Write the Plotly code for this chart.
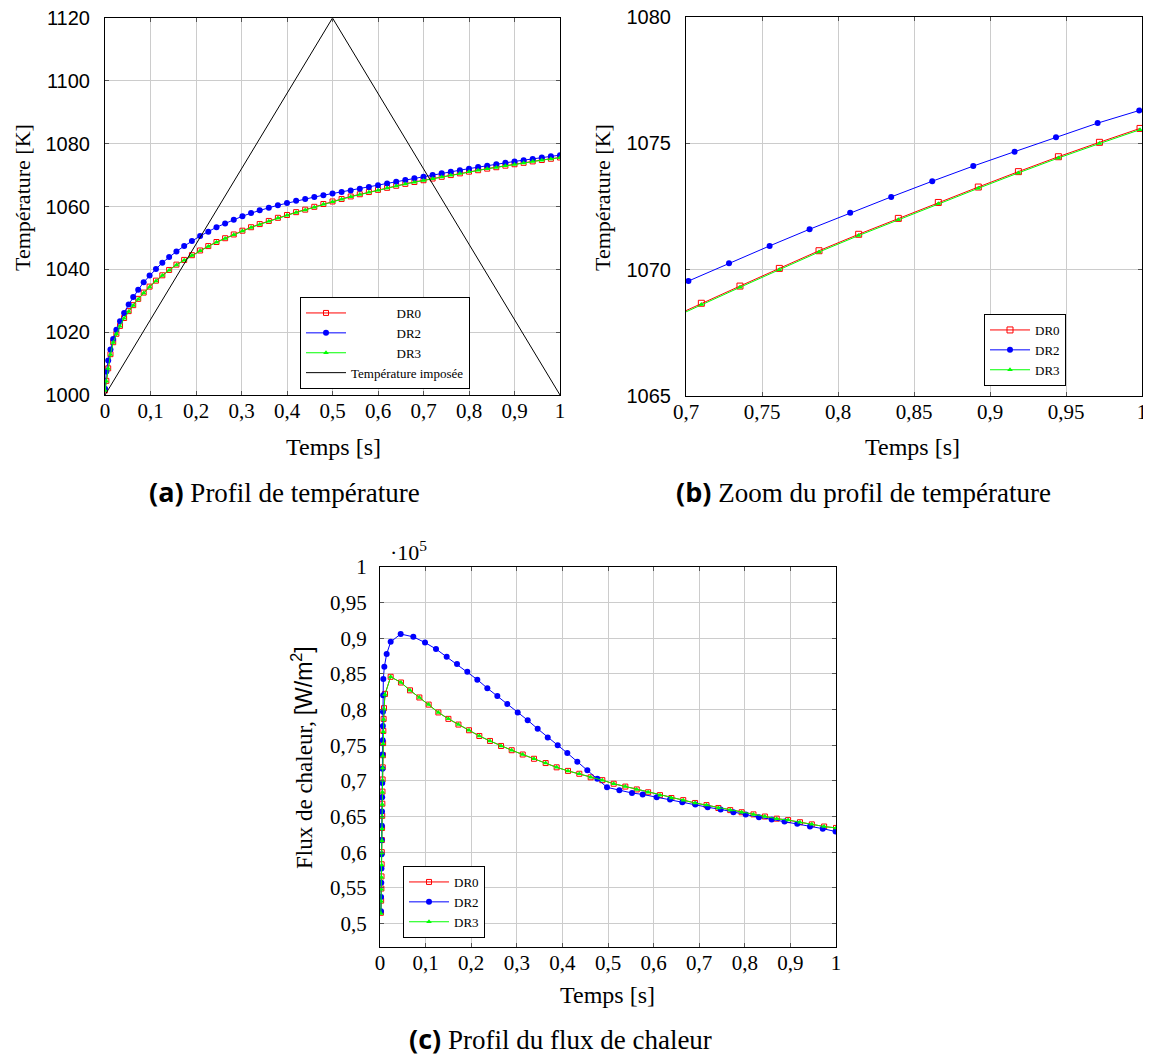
import plotly.graph_objects as go

# ---------------- data: (a) temperature profile ----------------
time_a = [0, 0.003, 0.007, 0.012, 0.018, 0.025, 0.033, 0.042, 0.052, 0.062,
          0.073, 0.085, 0.098, 0.112, 0.126, 0.141, 0.157, 0.174, 0.191, 0.209,
          0.227, 0.245, 0.264, 0.283, 0.302, 0.321, 0.34, 0.36, 0.38, 0.4,
          0.42, 0.44, 0.46, 0.48, 0.5, 0.52, 0.54, 0.56, 0.58, 0.6,
          0.62, 0.64, 0.66, 0.68, 0.7, 0.72, 0.74, 0.76, 0.78, 0.8,
          0.82, 0.84, 0.86, 0.88, 0.9, 0.92, 0.94, 0.96, 0.98, 1.0]
dr0_a = [1001.5, 1004.5, 1008.5, 1013.0, 1016.8, 1019.5, 1022.0, 1024.5, 1026.7, 1028.6,
         1030.6, 1032.6, 1034.5, 1036.4, 1038.1, 1039.8, 1041.5, 1043.0, 1044.5, 1046.0,
         1047.4, 1048.7, 1049.9, 1051.1, 1052.3, 1053.4, 1054.4, 1055.4, 1056.4, 1057.3,
         1058.2, 1059.0, 1059.9, 1060.8, 1061.6, 1062.4, 1063.2, 1063.9, 1064.6, 1065.3,
         1065.95, 1066.6, 1067.2, 1067.8, 1068.36, 1068.9, 1069.45, 1070.0, 1070.55, 1071.1,
         1071.55, 1072.05, 1072.5, 1073.0, 1073.45, 1073.9, 1074.35, 1074.8, 1075.2, 1075.6]
dr2_a = [1002.0, 1007.5, 1011.0, 1014.5, 1017.8, 1020.8, 1023.5, 1026.1, 1028.8, 1031.2,
         1033.5, 1035.9, 1038.0, 1040.1, 1042.1, 1043.9, 1045.7, 1047.4, 1049.0, 1050.6,
         1052.0, 1053.4, 1054.6, 1055.8, 1056.9, 1057.9, 1058.8, 1059.6, 1060.4, 1061.1,
         1061.8, 1062.4, 1063.0, 1063.6, 1064.1, 1064.6, 1065.1, 1065.65, 1066.2, 1066.8,
         1067.35, 1067.9, 1068.45, 1069.0, 1069.5, 1070.0, 1070.55, 1071.05, 1071.55, 1072.05,
         1072.55, 1073.0, 1073.45, 1073.9, 1074.35, 1074.75, 1075.15, 1075.6, 1076.0, 1076.35]
dr3_a = [1001.4, 1004.4, 1008.4, 1012.9, 1016.7, 1019.4, 1021.9, 1024.4, 1026.6, 1028.5,
         1030.5, 1032.5, 1034.4, 1036.3, 1038.0, 1039.7, 1041.4, 1042.9, 1044.4, 1045.9,
         1047.3, 1048.6, 1049.8, 1051.0, 1052.2, 1053.3, 1054.3, 1055.3, 1056.3, 1057.2,
         1058.1, 1058.9, 1059.8, 1060.7, 1061.5, 1062.3, 1063.1, 1063.8, 1064.5, 1065.2,
         1065.9, 1066.55, 1067.15, 1067.75, 1068.3, 1068.85, 1069.4, 1069.95, 1070.5, 1071.05,
         1071.5, 1072.0, 1072.45, 1072.95, 1073.4, 1073.85, 1074.3, 1074.75, 1075.15, 1075.55]
time_imposed = [0, 0.5, 1]
temp_imposed = [1000, 1120, 1000]

# ---------------- data: (b) zoom of temperature profile ----------------
time_b_dr0 = [0.6843, 0.7101, 0.7355, 0.7614, 0.7875, 0.8136, 0.8397, 0.866, 0.8923,
              0.9187, 0.945, 0.972, 0.9987]
dr0_b = [1067.95, 1068.67, 1069.35, 1070.05, 1070.75, 1071.4, 1072.03, 1072.66, 1073.27,
         1073.88, 1074.47, 1075.04, 1075.59]
dr3_b = [1067.9, 1068.62, 1069.3, 1070.0, 1070.7, 1071.35, 1071.98, 1072.61, 1073.22,
         1073.83, 1074.42, 1074.99, 1075.54]
time_b_dr2 = [0.7016, 0.7283, 0.755, 0.7813, 0.808, 0.835, 0.862, 0.889, 0.9162,
              0.9434, 0.9708, 0.9982]
dr2_b = [1069.55, 1070.25, 1070.94, 1071.6, 1072.25, 1072.88, 1073.5, 1074.1, 1074.67,
         1075.24, 1075.8, 1076.3]

# ---------------- data: (c) heat flux (x 1e5 W/m2) ----------------
time_c_dr0 = [0.002, 0.0025, 0.003, 0.0033, 0.0036, 0.0039, 0.0042, 0.0045, 0.0048, 0.0051,
              0.0054, 0.0057, 0.006, 0.0064, 0.0068, 0.0073, 0.0079, 0.0088, 0.011, 0.0234,
              0.046, 0.0658, 0.0863, 0.1067, 0.128, 0.150, 0.172, 0.1952, 0.2178, 0.2412,
              0.2654, 0.2888, 0.313, 0.3377, 0.3633, 0.3874, 0.4123, 0.4371, 0.462, 0.4875,
              0.5125, 0.538, 0.563, 0.588, 0.614, 0.639, 0.665, 0.691, 0.716, 0.742,
              0.768, 0.793, 0.819, 0.844, 0.87, 0.895, 0.921, 0.947, 0.974, 1.0]
flux_dr0 = [0.515, 0.532, 0.549, 0.566, 0.583, 0.600, 0.617, 0.634, 0.651, 0.668,
            0.685, 0.702, 0.719, 0.736, 0.753, 0.770, 0.787, 0.802, 0.822, 0.846,
            0.838, 0.827, 0.817, 0.807, 0.796, 0.787, 0.779, 0.771, 0.763, 0.756,
            0.749, 0.743, 0.737, 0.731, 0.725, 0.719, 0.714, 0.710, 0.705, 0.701,
            0.696, 0.692, 0.688, 0.684, 0.680, 0.676, 0.673, 0.669, 0.666, 0.662,
            0.659, 0.656, 0.653, 0.650, 0.647, 0.645, 0.642, 0.639, 0.636, 0.634]
flux_dr3 = [0.514, 0.531, 0.548, 0.565, 0.582, 0.599, 0.616, 0.633, 0.650, 0.667,
            0.684, 0.701, 0.718, 0.735, 0.752, 0.769, 0.786, 0.801, 0.821, 0.846,
            0.838, 0.827, 0.817, 0.807, 0.796, 0.787, 0.779, 0.771, 0.763, 0.756,
            0.749, 0.743, 0.737, 0.731, 0.725, 0.719, 0.714, 0.710, 0.705, 0.701,
            0.696, 0.692, 0.688, 0.684, 0.680, 0.676, 0.673, 0.669, 0.666, 0.662,
            0.659, 0.656, 0.653, 0.650, 0.647, 0.645, 0.642, 0.639, 0.636, 0.634]
time_c_dr2 = [0.002, 0.0024, 0.0028, 0.0032, 0.0035, 0.0038, 0.0041, 0.0044, 0.0047, 0.005,
              0.0053, 0.0056, 0.0059, 0.0062, 0.0065, 0.0069, 0.0073, 0.0095, 0.0146, 0.0234,
              0.0453, 0.0731, 0.0987, 0.1228, 0.1462, 0.1689, 0.1915, 0.2134, 0.2354, 0.2573,
              0.2792, 0.302, 0.3239, 0.3458, 0.3678, 0.3897, 0.4108, 0.4327, 0.4547, 0.4766,
              0.4978, 0.525, 0.5526, 0.576, 0.6067, 0.636, 0.663, 0.6915, 0.7186, 0.747,
              0.775, 0.802, 0.831, 0.859, 0.887, 0.915, 0.943, 0.971, 0.999]
flux_dr2 = [0.517, 0.537, 0.557, 0.577, 0.597, 0.617, 0.637, 0.657, 0.677, 0.697,
            0.717, 0.737, 0.757, 0.777, 0.797, 0.820, 0.843, 0.860, 0.878, 0.895,
            0.906, 0.902, 0.894, 0.885, 0.874, 0.864, 0.853, 0.842, 0.830, 0.819,
            0.808, 0.796, 0.785, 0.773, 0.761, 0.750, 0.739, 0.727, 0.715, 0.703,
            0.691, 0.687, 0.683, 0.681, 0.677, 0.674, 0.670, 0.667, 0.663, 0.660,
            0.656, 0.653, 0.649, 0.646, 0.643, 0.640, 0.636, 0.633, 0.629]

# ---------------- tick labels ----------------
x_ticks_full = [0, 0.1, 0.2, 0.3, 0.4, 0.5, 0.6, 0.7, 0.8, 0.9, 1]
x_ticktext_full = ["0", "0,1", "0,2", "0,3", "0,4", "0,5", "0,6", "0,7", "0,8", "0,9", "1"]
y_ticks_a = [1000, 1020, 1040, 1060, 1080, 1100, 1120]
y_ticktext_a = ["1000", "1020", "1040", "1060", "1080", "1100", "1120"]
x_ticks_b = [0.7, 0.75, 0.8, 0.85, 0.9, 0.95, 1]
x_ticktext_b = ["0,7", "0,75", "0,8", "0,85", "0,9", "0,95", "1"]
y_ticks_b = [1065, 1070, 1075, 1080]
y_ticktext_b = ["1065", "1070", "1075", "1080"]
y_ticks_c = [0.5, 0.55, 0.6, 0.65, 0.7, 0.75, 0.8, 0.85, 0.9, 0.95, 1]
y_ticktext_c = ["0,5", "0,55", "0,6", "0,65", "0,7", "0,75", "0,8", "0,85", "0,9", "0,95", "1"]

W, H = 1151, 1059
OFF = 8  # page body margin of the html page
SERIF = "Liberation Serif"
SANS = "Liberation Sans"
RED, BLUE, GREEN = "#ff0000", "#0000ff", "#00ff00"


def px(x):
    return (x - OFF) / W


def py(y):
    return 1 - (y - OFF) / H


fig = go.Figure()

pad = "\u2002" * 7
# (a)
fig.add_trace(go.Scatter(x=time_a, y=dr0_a, name=pad + "DR0", mode="lines+markers",
                         line=dict(color=RED, width=1),
                         marker=dict(symbol="square-open", size=5, color=RED, line=dict(width=1, color=RED)),
                         xaxis="x", yaxis="y", legend="legend"))
fig.add_trace(go.Scatter(x=time_a, y=dr2_a, name=pad + "DR2", mode="lines+markers",
                         line=dict(color=BLUE, width=1),
                         marker=dict(symbol="circle", size=6, color=BLUE),
                         xaxis="x", yaxis="y", legend="legend"))
fig.add_trace(go.Scatter(x=time_a, y=dr3_a, name=pad + "DR3", mode="lines+markers",
                         line=dict(color=GREEN, width=1),
                         marker=dict(symbol="triangle-up", size=5, color=GREEN),
                         xaxis="x", yaxis="y", legend="legend"))
fig.add_trace(go.Scatter(x=time_imposed, y=temp_imposed, name="Température imposée", mode="lines",
                         line=dict(color="black", width=1),
                         xaxis="x", yaxis="y", legend="legend"))
# (b)
fig.add_trace(go.Scatter(x=time_b_dr0, y=dr0_b, name="DR0", mode="lines+markers",
                         line=dict(color=RED, width=1),
                         marker=dict(symbol="square-open", size=6, color=RED, line=dict(width=1, color=RED)),
                         xaxis="x2", yaxis="y2", legend="legend2"))
fig.add_trace(go.Scatter(x=time_b_dr2, y=dr2_b, name="DR2", mode="lines+markers",
                         line=dict(color=BLUE, width=1),
                         marker=dict(symbol="circle", size=6, color=BLUE),
                         xaxis="x2", yaxis="y2", legend="legend2"))
fig.add_trace(go.Scatter(x=time_b_dr0, y=dr3_b, name="DR3", mode="lines+markers",
                         line=dict(color=GREEN, width=1),
                         marker=dict(symbol="triangle-up", size=5, color=GREEN),
                         xaxis="x2", yaxis="y2", legend="legend2"))
# (c)
fig.add_trace(go.Scatter(x=time_c_dr0, y=flux_dr0, name="DR0", mode="lines+markers",
                         line=dict(color=RED, width=1),
                         marker=dict(symbol="square-open", size=5, color=RED, line=dict(width=1, color=RED)),
                         xaxis="x3", yaxis="y3", legend="legend3"))
fig.add_trace(go.Scatter(x=time_c_dr2, y=flux_dr2, name="DR2", mode="lines+markers",
                         line=dict(color=BLUE, width=1),
                         marker=dict(symbol="circle", size=6, color=BLUE),
                         xaxis="x3", yaxis="y3", legend="legend3"))
fig.add_trace(go.Scatter(x=time_c_dr0, y=flux_dr3, name="DR3", mode="lines+markers",
                         line=dict(color=GREEN, width=1),
                         marker=dict(symbol="triangle-up", size=5, color=GREEN),
                         xaxis="x3", yaxis="y3", legend="legend3"))

common_axis = dict(showgrid=True, gridcolor="#cccccc", gridwidth=1, zeroline=False,
                   showline=True, linecolor="black", linewidth=1, mirror="allticks",
                   ticks="inside", ticklen=4, tickcolor="#555555", tickwidth=1,
                   automargin=False, ticklabeloverflow="allow")
xtickfont = dict(family=SERIF, size=21, color="black")
ysansfont = dict(family=SANS, size=20, color="black")

legend_common = dict(bgcolor="white", bordercolor="black", borderwidth=1,
                     font=dict(family=SERIF, size=13, color="black"),
                     xanchor="left", yanchor="top", tracegroupgap=0, itemwidth=40,
                     itemclick=False)

fig.update_layout(
    template="none",
    width=W, height=H, autosize=False,
    margin=dict(l=0, r=0, t=0, b=0, pad=0),
    paper_bgcolor="white", plot_bgcolor="white",
    font=dict(family=SERIF, color="black"),
    xaxis=dict(domain=[px(105), px(560)], anchor="y", range=[0, 1],
               tickvals=x_ticks_full, ticktext=x_ticktext_full, tickfont=xtickfont,
               ticklabelstandoff=-3, **common_axis),
    yaxis=dict(domain=[py(395), py(18)], anchor="x", range=[1000, 1120],
               tickvals=y_ticks_a, ticktext=y_ticktext_a, tickfont=ysansfont,
               ticklabelstandoff=10, **common_axis),
    xaxis2=dict(domain=[px(686), px(1142)], anchor="y2", range=[0.7, 1],
                tickvals=x_ticks_b, ticktext=x_ticktext_b, tickfont=xtickfont,
                ticklabelstandoff=-3, **common_axis),
    yaxis2=dict(domain=[py(396), py(17)], anchor="x2", range=[1065, 1080],
                tickvals=y_ticks_b, ticktext=y_ticktext_b, tickfont=ysansfont,
                ticklabelstandoff=10, **common_axis),
    xaxis3=dict(domain=[px(380), px(836)], anchor="y3", range=[0, 1],
                tickvals=x_ticks_full, ticktext=x_ticktext_full, tickfont=xtickfont,
                ticklabelstandoff=-3, **common_axis),
    yaxis3=dict(domain=[py(947), py(567)], anchor="x3", range=[0.467, 1.0],
                tickvals=y_ticks_c, ticktext=y_ticktext_c, tickfont=xtickfont,
                ticklabelstandoff=8, **common_axis),
    legend=dict(x=px(300), y=py(297), **legend_common),
    legend2=dict(x=px(984), y=py(314), **legend_common),
    legend3=dict(x=px(403), y=py(866), **legend_common),
)

ytitle_font = dict(family=SERIF, size=22, color="black")
xtitle_font = dict(family=SERIF, size=24, color="black")
cap_font = dict(family=SERIF, size=27, color="black")
BOLD = "<span style='font-family:Open Sans;font-weight:bold'>%s</span>"
annotations = [
    dict(text="Température [K]", x=px(22), y=py(198), textangle=-90, font=ytitle_font),
    dict(text="Température [K]", x=px(602), y=py(198), textangle=-90, font=ytitle_font),
    dict(text="Flux de chaleur, <span style='font-family:Liberation Sans'>[W/m<sup>2</sup>]</span>",
         x=px(302), y=py(758), textangle=-90, font=dict(family=SERIF, size=23, color="black")),
    dict(text="Temps [s]", x=px(333), y=py(447), font=xtitle_font),
    dict(text="Temps [s]", x=px(912), y=py(447), font=xtitle_font),
    dict(text="Temps [s]", x=px(607), y=py(995), font=xtitle_font),
    dict(text="·10<sup>5</sup>", x=px(388), y=py(551), xanchor="left", font=ytitle_font),
    dict(text=BOLD % "(a)" + " Profil de température", x=px(284), y=py(492), font=cap_font),
    dict(text=BOLD % "(b)" + " Zoom du profil de température", x=px(863), y=py(492), font=cap_font),
    dict(text=BOLD % "(c)" + " Profil du flux de chaleur", x=px(560), y=py(1038), font=cap_font),
]
for a in annotations:
    a.setdefault("xanchor", "center")
    fig.add_annotation(xref="paper", yref="paper", showarrow=False, yanchor="middle", **a)

fig.write_html("out.html")
